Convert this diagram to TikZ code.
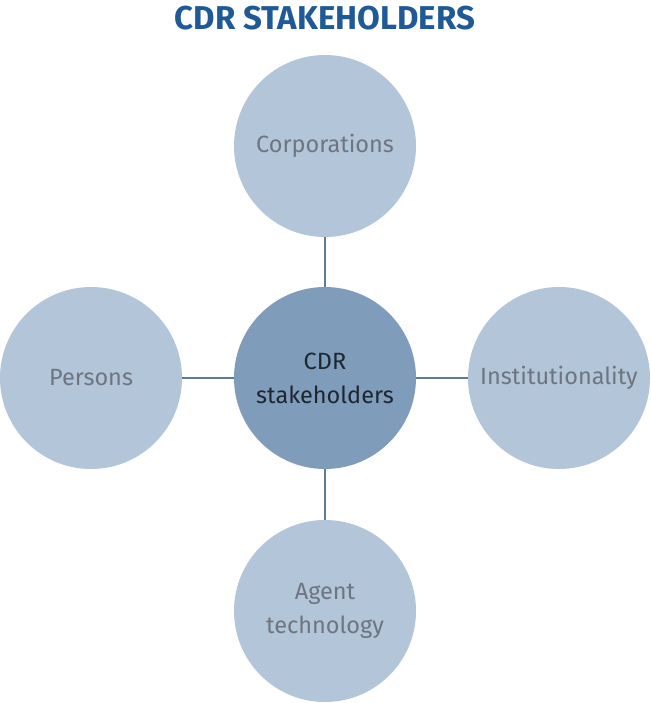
\documentclass[tikz,border=0pt]{standalone}
\usepackage{fontspec}
\setmainfont{Fira Sans}
\definecolor{lightc}{HTML}{B3C5D8}
\definecolor{darkc}{HTML}{7F9CBB}
\definecolor{linec}{HTML}{5E7A99}
\definecolor{titlec}{HTML}{1F5A96}
\definecolor{textl}{HTML}{6E7580}
\definecolor{textd}{HTML}{1E2630}
\begin{document}
\begin{tikzpicture}[x=1pt,y=-1pt,
  outer/.style={circle,fill=lightc,minimum size=182pt,inner sep=0pt,text=textl,font=\fontsize{23.5}{34}\selectfont,align=center},
  inner/.style={circle,fill=darkc,minimum size=182pt,inner sep=0pt,text=textd,font=\fontsize{23.5}{34}\selectfont,align=center},
  link/.style={draw=linec,line width=1.3pt}]
\useasboundingbox (0,0) rectangle (650,703);
\node[text=titlec,font=\fontsize{33}{38}\selectfont\bfseries] (title) at (325,18) {CDR STAKEHOLDERS};
\node[inner] (c) at (325,378) {CDR\\stakeholders};
\node[outer] (t) at (325,146) {Corporations};
\node[outer] (l) at (91,378) {Persons};
\node[outer] (r) at (559,378) {Institutionality};
\node[outer] (b) at (325,611) {Agent\\technology};
\draw[link] (c) -- (t);
\draw[link] (c) -- (l);
\draw[link] (c) -- (r);
\draw[link] (c) -- (b);
\end{tikzpicture}
\end{document}
